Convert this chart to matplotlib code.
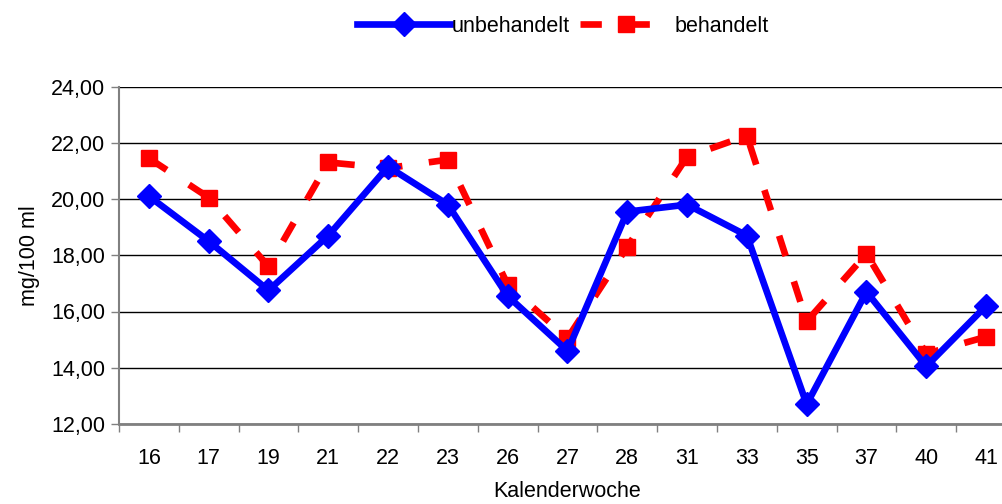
import numpy as np
import matplotlib
matplotlib.use('Agg')
import matplotlib.pyplot as plt
from matplotlib.ticker import FuncFormatter, FixedLocator

plt.rcParams['font.family'] = ['Liberation Sans', 'DejaVu Sans']

# Kalenderwochen und Messwerte
wochen = ['16', '17', '19', '21', '22', '23', '26', '27', '28', '31', '33', '35', '37', '40', '41']
unbehandelt = [20.1, 18.5, 16.75, 18.7, 21.15, 19.8, 16.55, 14.6, 19.55, 19.8, 18.7, 12.7, 16.7, 14.05, 16.2]
behandelt = [21.45, 20.05, 17.6, 21.3, 21.1, 21.4, 16.95, 15.05, 18.3, 21.5, 22.25, 15.65, 18.05, 14.5, 15.1]

fs = 15.5

fig = plt.figure(figsize=(10.03, 5.04), dpi=100)
# Plotbereich geht rechts etwas über den Bildrand hinaus (wie im Original)
ax = fig.add_axes([119/1003, 80/504, 897/1003, 337.5/504])

x = np.arange(len(wochen))
ax.plot(x, unbehandelt, color='#0000ff', lw=4.8, marker='D', ms=12,
        label='unbehandelt', zorder=3)
ax.plot(x, behandelt, color='#ff0000', lw=4.8, ls=(0, (3.2, 4.0)), marker='s', ms=11.5,
        label='behandelt', zorder=2)

ax.set_xlim(-0.5, len(wochen) - 0.5)
ax.set_ylim(12, 24)
ax.set_yticks(np.arange(12, 24.1, 2))
ax.yaxis.set_major_formatter(FuncFormatter(lambda v, p: f'{v:.2f}'.replace('.', ',')))
ax.yaxis.grid(True, color='black', lw=1)
ax.set_axisbelow(True)

ax.set_xticks(x)
ax.set_xticklabels(wochen)
ax.xaxis.set_minor_locator(FixedLocator(np.arange(-0.5, len(wochen), 1)))
ax.tick_params(axis='x', which='major', length=0, pad=17, labelsize=fs)
ax.tick_params(axis='x', which='minor', length=6, width=1, color='#808080')
ax.tick_params(axis='y', length=6, width=1, color='#808080', labelsize=fs, pad=4)

for s in ['top', 'right']:
    ax.spines[s].set_visible(False)
ax.spines['left'].set_color('#808080')
ax.spines['left'].set_linewidth(1.5)
ax.spines['bottom'].set_color('#808080')
ax.spines['bottom'].set_linewidth(2)

ax.set_xlabel('Kalenderwoche', fontsize=fs, labelpad=9)
ax.set_ylabel('mg/100 ml', fontsize=fs, labelpad=8)

fig.legend(loc='center', bbox_to_anchor=(563/1003, 1 - 26/504), ncol=2, frameon=False,
           fontsize=fs, handlelength=4.3, handletextpad=0.1, columnspacing=0.45)

fig.savefig('out.png', dpi=100)
